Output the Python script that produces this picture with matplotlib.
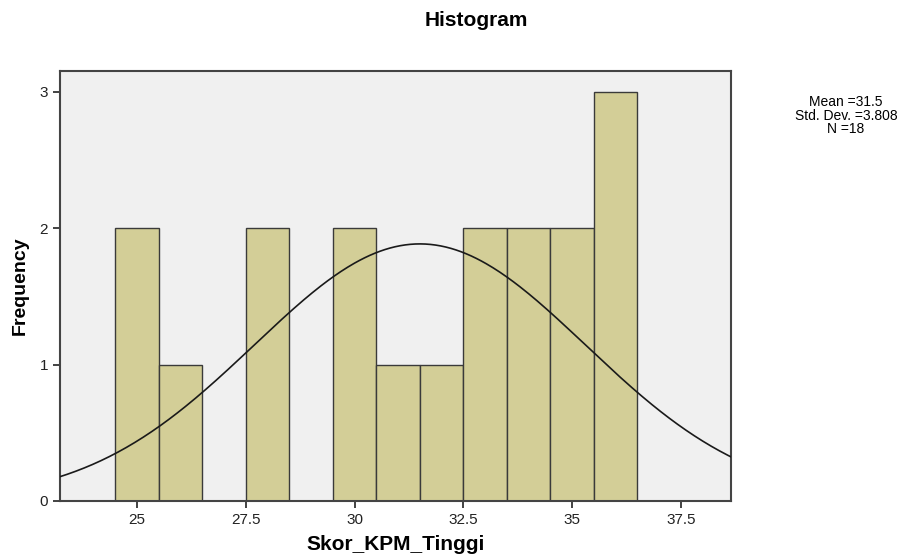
import numpy as np
import matplotlib.pyplot as plt

# bin centres and frequencies
scores = [25, 26, 27, 28, 29, 30, 31, 32, 33, 34, 35, 36]
counts = [2, 1, 0, 2, 0, 2, 1, 1, 2, 2, 2, 3]
mean = 31.5
std_dev = 3.808
n = 18

plt.rcParams['font.family'] = ['Liberation Sans', 'DejaVu Sans']

fig = plt.figure(figsize=(9.14, 5.6), dpi=100)
ax = fig.add_axes([60 / 914, 59 / 560, 671 / 914, 430 / 560])
ax.set_facecolor('#f0f0f0')

ax.bar(scores, counts, width=1.0, color='#d3ce97', edgecolor='#3a3a3a',
       linewidth=1.0, zorder=2)

# normal curve scaled to counts
x = np.linspace(23.2, 38.7, 400)
y = n * 1.0 / (std_dev * np.sqrt(2 * np.pi)) * np.exp(-0.5 * ((x - mean) / std_dev) ** 2)
ax.plot(x, y, color='#1a1a1a', linewidth=1.2, zorder=3)

ax.set_xlim(23.23, 38.65)
ax.set_ylim(0, 3.154)
ax.set_xticks([25, 27.5, 30, 32.5, 35, 37.5])
ax.set_xticklabels(['25', '27.5', '30', '32.5', '35', '37.5'])
ax.set_yticks([0, 1, 2, 3])
ax.tick_params(labelsize=11, length=5, width=1.2, colors='#222222')

for s in ax.spines.values():
    s.set_color('#444444')
    s.set_linewidth(1.5)

ax.set_xlabel('Skor_KPM_Tinggi', fontsize=15, fontweight='bold', labelpad=6)
ax.set_ylabel('Frequency', fontsize=14, fontweight='bold', labelpad=8)

fig.text(476 / 914, 1 - 21 / 560, 'Histogram', fontsize=15, fontweight='bold',
         ha='center', va='center')

# stats box, one line at a time so lines sit tight like the reference
stats = ['Mean =%s' % mean, 'Std. Dev. =%s' % std_dev, 'N =%d' % n]
for i, line in enumerate(stats):
    fig.text(846 / 914, 1 - (102 + 13.5 * i) / 560, line, fontsize=10,
             ha='center', va='center')

fig.savefig('out.png', dpi=100)
